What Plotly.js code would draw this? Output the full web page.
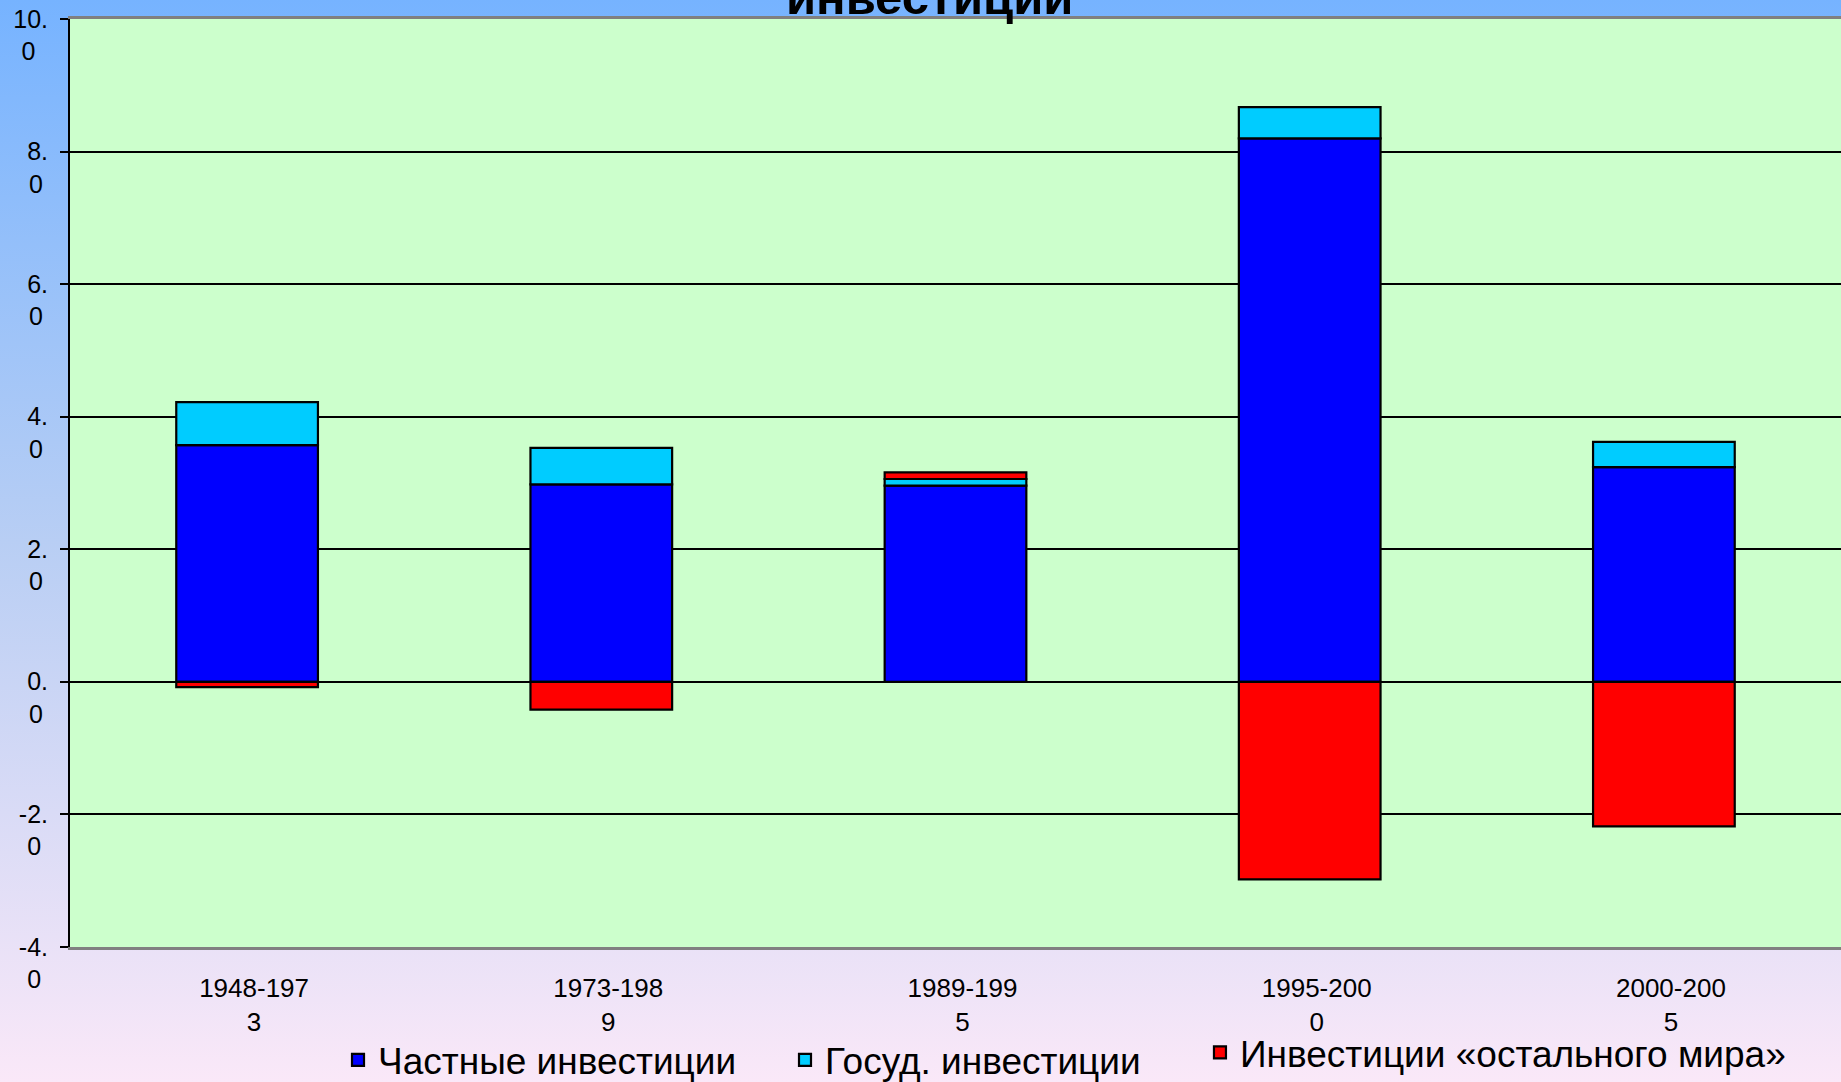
<!DOCTYPE html>
<html>
<head>
<meta charset="utf-8">
<script src="https://cdn.plot.ly/plotly-3.0.1.min.js"></script>
<style>
html, body { margin: 0; padding: 0; width: 1841px; height: 1082px; overflow: hidden; }
body { background: linear-gradient(to bottom, #76B3FF 0%, #B8CEF4 50%, #FAE8F8 100%); }
#chart { width: 1841px; height: 1082px; }
</style>
</head>
<body>
<div id="chart"></div>
<script>
// ---- data ----
const categories = ['1948-1973', '1973-1989', '1989-1995', '1995-2000', '2000-2005'];
const categoryLabels = ['1948-197<br>3', '1973-198<br>9', '1989-199<br>5', '1995-200<br>0', '2000-200<br>5'];
const privateInvestment = [3.57, 2.98, 2.96, 8.20, 3.24];
const governmentInvestment = [0.65, 0.55, 0.10, 0.47, 0.38];
const restOfWorldInvestment = [-0.08, -0.42, 0.10, -2.98, -2.18];
const seriesNames = ['Частные инвестиции', 'Госуд. инвестиции', 'Инвестиции «остального мира»'];
const seriesColors = ['#0000FF', '#00CCFF', '#FF0000'];
const yTickValues = [-4, -2, 0, 2, 4, 6, 8, 10];
const yTickLabels = ['-4.<br>0\u00a0', '-2.<br>0\u00a0', '0.<br>0\u2009', '2.<br>0\u2009', '4.<br>0\u2009', '6.<br>0\u2009', '8.<br>0\u2009', '10.<br>0\u2002'];
const boundaryTicks = [0.5, 1.5, 2.5, 3.5];
const titleText = 'инвестиции';

const FONT = 'Arial, "Liberation Sans", sans-serif';
const series = [privateInvestment, governmentInvestment, restOfWorldInvestment];
const legendIds = ['legend', 'legend2', 'legend3'];

const traces = series.map((vals, i) => ({
  type: 'bar',
  x: categories,
  y: vals,
  name: seriesNames[i],
  legend: legendIds[i],
  marker: { color: seriesColors[i], line: { color: '#000000', width: 2.2 } },
  hoverinfo: 'skip'
}));

function legendBox(x, y) {
  return {
    orientation: 'h',
    xref: 'container', x: x, xanchor: 'left',
    yref: 'container', y: y, yanchor: 'middle',
    font: { size: 37, family: FONT, color: '#000000' },
    bgcolor: 'rgba(0,0,0,0)',
    borderwidth: 0
  };
}

const layout = {
  width: 1841,
  height: 1082,
  paper_bgcolor: 'rgba(0,0,0,0)',
  plot_bgcolor: '#CCFFCC',
  margin: { l: 70, r: 0, t: 19, b: 135 },
  barmode: 'relative',
  bargap: 0.6,
  font: { family: FONT, color: '#000000' },
  showlegend: true,
  title: {
    text: titleText,
    font: { family: FONT, size: 49, weight: 700, color: '#000000' },
    xref: 'container', x: 0.505, xanchor: 'center',
    yref: 'paper', y: 1, yanchor: 'bottom',
    pad: { b: 5, t: 0, l: 0, r: 0 }
  },
  xaxis: {
    type: 'category',
    categoryorder: 'array',
    categoryarray: categories,
    tickvals: categories,
    ticktext: categoryLabels,
    tickfont: { size: 26, family: FONT, color: '#000000' },
    ticks: '',
    ticklabelstandoff: 16,
    ticklabelshift: 7,
    range: [-0.5, 4.5],
    showline: true, linecolor: '#808080', linewidth: 3, mirror: true,
    showgrid: false, zeroline: false,
    fixedrange: true
  },
  xaxis2: {
    overlaying: 'x',
    anchor: 'free',
    position: 4 / 14,
    type: 'linear',
    range: [-0.5, 4.5],
    tickvals: boundaryTicks,
    ticks: 'outside', ticklen: 7, tickwidth: 2, tickcolor: '#000000',
    showticklabels: false, showgrid: false, zeroline: false, showline: false,
    fixedrange: true
  },
  yaxis: {
    range: [-4, 10],
    tickvals: yTickValues,
    ticktext: yTickLabels,
    tickfont: { size: 25, family: FONT, color: '#000000' },
    ticks: 'outside', ticklen: 8, tickwidth: 2, tickcolor: '#000000',
    ticklabelstandoff: 7,
    ticklabelshift: 16,
    showgrid: true, gridcolor: '#000000', gridwidth: 2,
    zeroline: true, zerolinecolor: '#000000', zerolinewidth: 2,
    showline: true, linecolor: '#000000', linewidth: 2,
    fixedrange: true
  },
  legend: legendBox(0.1836, 0.02),
  legend2: legendBox(0.4264, 0.02),
  legend3: legendBox(0.6518, 0.027)
};

Plotly.newPlot('chart', traces, layout, { displayModeBar: false, staticPlot: true });
</script>
</body>
</html>
